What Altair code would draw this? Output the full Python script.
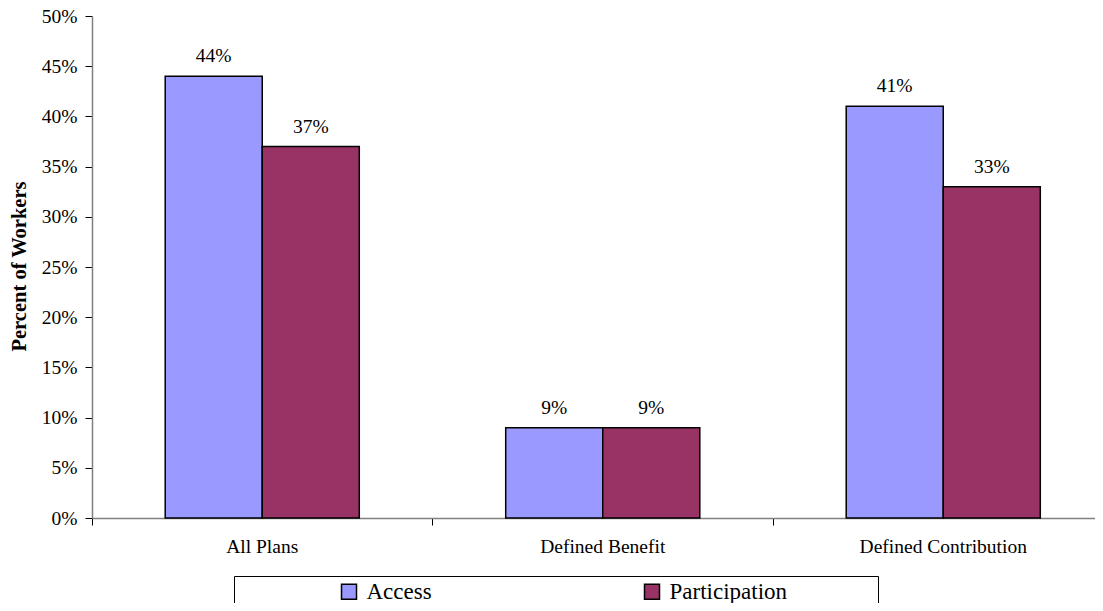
import altair as alt
import pandas as pd

categories = ["All Plans", "Defined Benefit", "Defined Contribution"]
series = ["Access", "Participation"]
access = [0.44, 0.09, 0.41]
participation = [0.37, 0.09, 0.33]
y_ticks = [0, 0.05, 0.10, 0.15, 0.20, 0.25, 0.30, 0.35, 0.40, 0.45, 0.50]
colors = ["#9999FF", "#993366"]

rows = []
for c, a, p in zip(categories, access, participation):
    rows.append({"Plan": c, "Series": series[0], "Value": a})
    rows.append({"Plan": c, "Series": series[1], "Value": p})
df = pd.DataFrame(rows)

FONT = "Liberation Serif"
W = 1003
H = 502
# trailing non-breaking spaces (kept from trimming by a zero-width space) widen the legend box
PAD = "\u00a0" * 15 + "\u200b"

x_enc = alt.X(
    "Plan:N",
    sort=categories,
    scale=alt.Scale(range=[0, 1021.5], paddingInner=0.43, paddingOuter=0.215),
    axis=alt.Axis(
        title=None, labelAngle=0, bandPosition=-0.3763, tickSize=7,
        tickColor="#000", tickWidth=1, domainColor="#808080", domainWidth=1.5,
        labelFont=FONT, labelFontSize=19.5, labelColor="#000", labelPadding=12,
    ),
)
y_enc = alt.Y(
    "Value:Q",
    scale=alt.Scale(domain=[0, 0.5]),
    axis=alt.Axis(
        values=y_ticks, format=".0%", tickSize=7, tickColor="#000",
        domainColor="#808080", domainWidth=1.5, grid=False,
        labelFont=FONT, labelFontSize=19.5, labelColor="#000", labelPadding=8,
        title="Percent of Workers", titleFont=FONT, titleFontSize=20.5,
        titleFontWeight="bold", titleColor="#000", titleAngle=-90,
        titleX=-73, titleY=250, titleAlign="center", titleBaseline="middle",
    ),
)

color_enc = alt.Color(
    "Series:N",
    sort=series,
    scale=alt.Scale(domain=series, range=colors),
    legend=alt.Legend(
        title=None, orient="none", legendX=142, legendY=560,
        direction="horizontal", columns=2, columnPadding=109,
        symbolType="square", symbolSize=225, symbolStrokeColor="#000",
        symbolStrokeWidth=1.5, symbolOffset=99.5,
        labelFont=FONT, labelFontSize=23, labelColor="#000", labelOffset=6,
        labelLimit=400, padding=4, strokeColor="#000",
        labelExpr="datum.label == 'Participation' ? datum.label + '" + PAD + "' : datum.label",
    ),
)

base = alt.Chart(df).encode(
    x=x_enc,
    xOffset=alt.XOffset("Series:N", sort=series),
    y=y_enc,
)

bars = base.mark_bar(stroke="#000", strokeWidth=1.5).encode(color=color_enc)
labels = base.mark_text(dy=-14, font=FONT, fontSize=19.5, color="#000", baseline="alphabetic").encode(
    text=alt.Text("Value:Q", format=".0%")
)

chart = (
    alt.layer(bars, labels)
    .properties(
        width=W, height=H,
        autosize=alt.AutoSizeParams(type="none"),
        padding={"left": 84, "top": 8, "right": 0, "bottom": 85},
    )
    .configure_view(stroke=None)
    .configure_axis(grid=False)
)

chart.save("out.html", embed_options={"renderer": "svg", "actions": False})
